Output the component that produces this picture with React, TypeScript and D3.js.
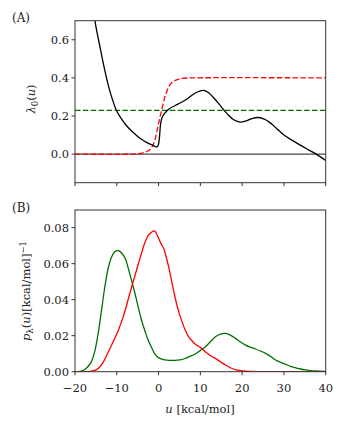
import React from 'react'
import * as d3 from 'd3'

// panel A: lambda_0(u)
const lambdaBlack: [number, number][] = [
  [-15.5, 0.745], [-15, 0.67], [-14, 0.56], [-13, 0.453], [-12, 0.358], [-11, 0.284], [-10, 0.225],
  [-9, 0.189], [-8, 0.158], [-7, 0.133], [-6, 0.112], [-5, 0.093], [-4, 0.077], [-3, 0.063],
  [-2, 0.052], [-1, 0.042], [-0.4, 0.037], [-0.1, 0.045], [0.2, 0.085], [0.5, 0.16], [0.9, 0.195],
  [1.5, 0.215], [2.5, 0.237], [4, 0.255], [5.5, 0.272], [7, 0.292], [8.5, 0.317], [10, 0.332],
  [10.8, 0.334], [12, 0.322], [13.5, 0.288], [15, 0.248], [16.5, 0.21], [18, 0.18], [19.6, 0.168],
  [21, 0.175], [22.5, 0.188], [23.8, 0.192], [25, 0.186], [26.5, 0.168], [28, 0.14], [30, 0.1],
  [32, 0.072], [34, 0.046], [36, 0.021], [38, -0.004], [40, -0.034],
]
const lambdaRed: [number, number][] = [
  [-20, 0], [-6, 0], [-5, 0.002], [-4, 0.005], [-3, 0.012], [-2, 0.024], [-1, 0.065], [-0.5, 0.11],
  [0, 0.16], [0.5, 0.21], [1, 0.255], [1.5, 0.3], [2, 0.33], [2.5, 0.355], [3, 0.372], [4, 0.387],
  [5, 0.395], [6, 0.398], [8, 0.4], [40, 0.4],
]
const lambdaGreen = 0.229

// panel B: p_lambda(u)
const pGreen: [number, number][] = [
  [-20, 0], [-18.5, 0.0003], [-17.5, 0.0015], [-16.5, 0.004], [-16, 0.006], [-15.2, 0.012],
  [-14.4, 0.022], [-13.6, 0.035], [-12.8, 0.048], [-12, 0.058], [-11.2, 0.064], [-10.4, 0.0668],
  [-9.6, 0.0672], [-8.8, 0.0658], [-8, 0.063], [-7.2, 0.057], [-6.4, 0.05], [-5.6, 0.043],
  [-4.8, 0.0352], [-4, 0.028], [-3.2, 0.0222], [-2.4, 0.017], [-1.6, 0.013], [-0.8, 0.0095],
  [0, 0.0078], [1, 0.0068], [2, 0.0064], [3.2, 0.0063], [4.5, 0.0064], [5.5, 0.0067], [6.4, 0.0074],
  [7.5, 0.0085], [8.8, 0.0098], [10, 0.0118], [11.2, 0.0139], [12.4, 0.0166], [13.6, 0.0194],
  [14.8, 0.0209], [16, 0.0213], [17.2, 0.0203], [18.4, 0.0185], [19.6, 0.0165], [20.8, 0.0148],
  [22, 0.0136], [23.2, 0.0126], [24.4, 0.0115], [25.6, 0.0102], [26.8, 0.0085], [28, 0.0065],
  [29.2, 0.0052], [30.4, 0.0041], [31.6, 0.003], [32.8, 0.0022], [34, 0.0015], [35.2, 0.001],
  [36.4, 0.0006], [37.6, 0.0004], [40, 0.0001],
]
const pRed: [number, number][] = [
  [-20, 0], [-17, 0], [-16, 0.0003], [-15, 0.001], [-14.4, 0.0019], [-13.2, 0.0055], [-12, 0.0111],
  [-10.8, 0.017], [-9.6, 0.0232], [-8.4, 0.031], [-7.2, 0.0408], [-6, 0.0505], [-4.8, 0.0602],
  [-4, 0.0665], [-3.2, 0.0722], [-2.4, 0.0758], [-1.6, 0.0776], [-1.2, 0.0782], [-0.8, 0.0778],
  [-0.4, 0.0762], [0, 0.0741], [0.6, 0.071], [1.2, 0.0685], [1.8, 0.064], [2.4, 0.0583],
  [3.2, 0.0495], [4, 0.0408], [4.8, 0.0335], [5.6, 0.0278], [6.4, 0.023], [7.2, 0.0194],
  [8, 0.0172], [8.8, 0.0152], [10, 0.0135], [11.2, 0.0111], [12.4, 0.009], [13.6, 0.0074],
  [14.8, 0.0055], [16, 0.0037], [17.2, 0.0022], [18.4, 0.0011], [19.6, 0.0006], [20.8, 0.0003],
  [22, 0.0001], [24, 0], [40, 0],
]

const xTicks = [-20, -10, 0, 10, 20, 30, 40]
const yTicksA = [0, 0.2, 0.4, 0.6]
const yTicksB = [0, 0.02, 0.04, 0.06, 0.08]

const FONT = '"DejaVu Serif", serif'
const GREEN = '#006f00'
const RED = '#ff0000'

export default function App() {
  const left = 75, right = 325.7
  const x = d3.scaleLinear().domain([-20, 40]).range([left, right])
  const yA = d3.scaleLinear().domain([-0.15, 0.7]).range([182.7, 20.7])
  const yB = d3.scaleLinear().domain([0, 0.0898]).range([371.7, 210])

  const lineA = d3.line<[number, number]>().x(d => x(d[0])).y(d => yA(d[1])).curve(d3.curveCatmullRom)
  const lineB = d3.line<[number, number]>().x(d => x(d[0])).y(d => yB(d[1])).curve(d3.curveCatmullRom)

  const fmt1 = d3.format('.1f')
  const fmt2 = d3.format('.2f')
  const fmtX = d3.format('d')

  const frame = (top: number, bottom: number) => (
    <rect x={left} y={top} width={right - left} height={bottom - top} fill="none" stroke="#333" strokeWidth={1} />
  )

  return (
    <svg width={350} height={433} style={{ display: 'block', position: 'absolute', left: 0, top: 0 }}
      fontFamily={FONT} fontSize={11.5} fill="#222">
      <defs>
        <clipPath id="clipA"><rect x={left} y={20.7} width={right - left} height={162} /></clipPath>
        <clipPath id="clipB"><rect x={left} y={210} width={right - left} height={161.7} /></clipPath>
      </defs>
      <rect width={350} height={433} fill="#fff" />

      {/* panel A */}
      <text x={12} y={22} fontSize={12}>(A)</text>
      <g clipPath="url(#clipA)">
        <line x1={left} x2={right} y1={yA(0)} y2={yA(0)} stroke="#000" strokeWidth={0.9} />
        <line x1={left} x2={right} y1={yA(lambdaGreen)} y2={yA(lambdaGreen)} stroke={GREEN}
          strokeWidth={1.3} strokeDasharray="5.5,2.4" />
        <path d={lineA(lambdaRed) || ''} fill="none" stroke={RED} strokeWidth={1.3} strokeDasharray="5.5,2.4" />
        <path d={lineA(lambdaBlack) || ''} fill="none" stroke="#000" strokeWidth={1.3} />
      </g>
      {frame(20.7, 182.7)}
      {yTicksA.map(t => (
        <g key={t}>
          <line x1={left - 3.5} x2={left} y1={yA(t)} y2={yA(t)} stroke="#333" />
          <text x={left - 6} y={yA(t)} dy="0.36em" textAnchor="end">{fmt1(t)}</text>
        </g>
      ))}
      {xTicks.map(t => (
        <line key={t} x1={x(t)} x2={x(t)} y1={182.7} y2={186.2} stroke="#333" />
      ))}
      <text transform="translate(35,99) rotate(-90)" textAnchor="middle">
        <tspan fontStyle="italic">λ</tspan>
        <tspan fontSize={8.5} dy={2.5}>0</tspan>
        <tspan dy={-2.5}>(</tspan>
        <tspan fontStyle="italic">u</tspan>
        <tspan>)</tspan>
      </text>

      {/* panel B */}
      <text x={12} y={212} fontSize={12}>(B)</text>
      <g clipPath="url(#clipB)">
        <path d={lineB(pGreen) || ''} fill="none" stroke={GREEN} strokeWidth={1.3} />
        <path d={lineB(pRed) || ''} fill="none" stroke={RED} strokeWidth={1.3} />
      </g>
      {frame(210, 371.7)}
      {yTicksB.map(t => (
        <g key={t}>
          <line x1={left - 3.5} x2={left} y1={yB(t)} y2={yB(t)} stroke="#333" />
          <text x={left - 6} y={yB(t)} dy="0.36em" textAnchor="end">{fmt2(t)}</text>
        </g>
      ))}
      {xTicks.map(t => (
        <g key={t}>
          <line x1={x(t)} x2={x(t)} y1={371.7} y2={375.2} stroke="#333" />
          <text x={x(t)} y={392} textAnchor="middle">{fmtX(t)}</text>
        </g>
      ))}
      <text transform="translate(30,291) rotate(-90)" textAnchor="middle">
        <tspan fontStyle="italic">p</tspan>
        <tspan fontSize={8.5} dy={2.5}>λ</tspan>
        <tspan dy={-2.5}>(</tspan>
        <tspan fontStyle="italic">u</tspan>
        <tspan>)[kcal/mol]</tspan>
        <tspan fontSize={8.5} dy={-4.5}>−1</tspan>
      </text>
      <text x={200} y={413} textAnchor="middle">
        <tspan fontStyle="italic">u</tspan>
        <tspan> [kcal/mol]</tspan>
      </text>
    </svg>
  )
}
